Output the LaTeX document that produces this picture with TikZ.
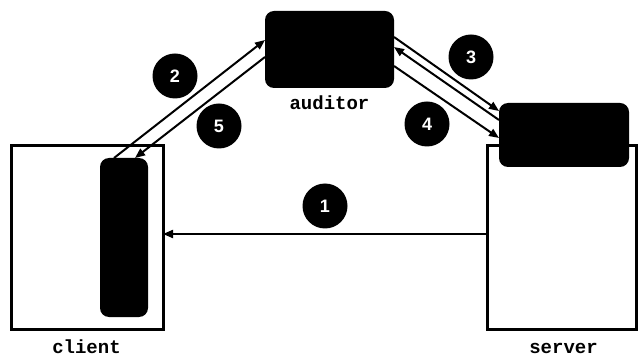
\documentclass[tikz,border=0pt]{standalone}
\usepackage{fontspec}
\setmainfont{Liberation Sans}
\newfontfamily\labfont{Liberation Mono}
\usetikzlibrary{arrows.meta}
\begin{document}
\begin{tikzpicture}[x=1pt,y=1pt,
  hostbox/.style={draw=black,line width=3pt,fill=white,inner sep=0pt,outer sep=0pt},
  blackbox/.style={fill=black,rounded corners=9pt,inner sep=0pt,outer sep=0pt},
  numdot/.style={circle,fill=black,text=white,minimum size=45pt,inner sep=0pt,font=\fontsize{18}{18}\selectfont\bfseries},
  hostlabel/.style={anchor=base,font=\labfont\fontsize{19}{19}\selectfont\bfseries},
  msg/.style={line width=2pt,-{Triangle[length=10pt,width=8pt]}}]
\useasboundingbox (0,0) rectangle (639,356);
% hosts
\node[hostbox,minimum width=152pt,minimum height=183pt] (cbox) at (87,118.5) {};
\node[hostbox,minimum width=149pt,minimum height=183pt] (sbox) at (562,118.5) {};
\node[blackbox,minimum width=48pt,minimum height=159pt] (cbar) at (124,118.5) {};
\node[blackbox,minimum width=130pt,minimum height=64pt] (sbar) at (564,221) {};
\node[blackbox,minimum width=129pt,minimum height=77pt] (aud) at (329.5,306.5) {};
% labels
\node[hostlabel] (clab) at (86.5,3) {client};
\node[hostlabel] (slab) at (563.5,3) {server};
\node[hostlabel] (alab) at (329.5,246) {auditor};
% numbers
\node[numdot] (n1) at (325,150) {1};
\node[numdot] (n2) at (175,280) {2};
\node[numdot] (n3) at (471,299) {3};
\node[numdot] (n4) at (427,232) {4};
\node[numdot] (n5) at (219,230) {5};
% messages
\draw[msg] ([yshift=3.5pt]sbox.west) -- ([yshift=3.5pt]cbox.east);
\draw[msg] ([xshift=-10pt]cbar.north) -- ([yshift=9.5pt]aud.west);
\draw[msg] ([yshift=-7.5pt]aud.west) -- ([xshift=11pt]cbar.north);
\draw[msg] ([yshift=12.5pt]aud.east) -- ([yshift=24pt]sbar.west);
\draw[msg] ([yshift=15pt]sbar.west) -- ([yshift=2.5pt]aud.east);
\draw[msg] ([yshift=-16.5pt]aud.east) -- ([yshift=-3pt]sbar.west);
\end{tikzpicture}
\end{document}
